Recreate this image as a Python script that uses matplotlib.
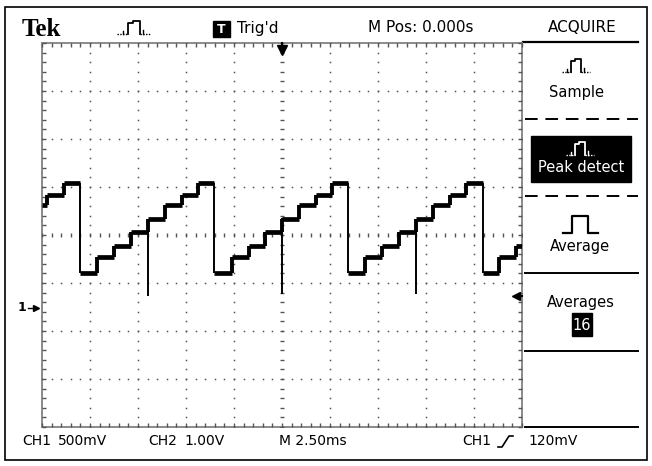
import numpy as np
import matplotlib.pyplot as plt
from matplotlib.patches import Rectangle

# scope settings
volts_per_div = 0.5      # CH1 500mV
ms_per_div = 2.5         # M 2.50ms
n_xdiv, n_ydiv = 10, 8
ground_div = 1.52        # CH1 ground marker below centre, in divisions
trig_level = 0.12        # V
trig_pos = 0.0           # ms

# CH1 staircase: edge times (ms) and the level held after each edge (V)
edge_t = [-12.5, -12.24, -11.35, -10.52, -9.64, -8.75, -7.86, -7.0, -6.09,
          -5.21, -4.37, -3.54, -2.6, -1.72, -0.89, 0.0, 0.89, 1.77, 2.6,
          3.44, 4.32, 5.21, 6.09, 6.98, 7.86, 8.75, 9.58, 10.47, 11.3,
          12.19, 12.5]
step_v = [1.07, 1.18, 1.30, 0.36, 0.53, 0.65, 0.79, 0.93, 1.07, 1.18,
          1.30, 0.36, 0.53, 0.65, 0.79, 0.93, 1.07, 1.18, 1.30, 0.36,
          0.53, 0.65, 0.79, 0.93, 1.07, 1.18, 1.30, 0.36, 0.53, 0.65]

# glitches at the mid-code transition
glitch_t = [-7.0, 0.0, 6.98]
glitch_top = [0.93, 0.94, 0.93]
glitch_low = [0.12, 0.15, 0.15]

W, H = 652, 466
fig = plt.figure(figsize=(W / 100, H / 100), dpi=100)
fig.patch.set_facecolor('white')

# full-figure overlay in pixel units for the screen furniture
ov = fig.add_axes([0, 0, 1, 1])
ov.set_xlim(0, W)
ov.set_ylim(H, 0)
ov.axis('off')

# graticule axes (42..522 x 43..427 px)
gx0, gy0, gw, gh = 42, 43, 480, 384
ax = fig.add_axes([gx0 / W, (H - gy0 - gh) / H, gw / W, gh / H])
ax.patch.set_alpha(0)
yc = ground_div * volts_per_div
ax.set_xlim(-n_xdiv / 2 * ms_per_div, n_xdiv / 2 * ms_per_div)
ax.set_ylim(yc - n_ydiv / 2 * volts_per_div, yc + n_ydiv / 2 * volts_per_div)
for s in ax.spines.values():
    s.set_visible(False)
ax.set_xticks([])
ax.set_yticks([])

grid_c = '#555555'
div_x = np.arange(-n_xdiv // 2, n_xdiv // 2 + 1) * ms_per_div
div_y = yc + np.arange(-n_ydiv // 2, n_ydiv // 2 + 1) * volts_per_div
minor_x = np.arange(-n_xdiv * 5 // 2, n_xdiv * 5 // 2 + 1) * ms_per_div / 5
minor_y = yc + np.arange(-n_ydiv * 5 // 2, n_ydiv * 5 // 2 + 1) * volts_per_div / 5

# dotted interior grid
for gxv in div_x[1:-1]:
    if abs(gxv) < 1e-9:
        continue
    ax.plot(np.full_like(minor_y, gxv), minor_y, ls='none', marker='s',
            ms=1.1, mew=0, color=grid_c)
for gyv in div_y[1:-1]:
    if abs(gyv - yc) < 1e-9:
        continue
    ax.plot(minor_x, np.full_like(minor_x, gyv), ls='none', marker='s',
            ms=1.1, mew=0, color=grid_c)
# centre lines with small ticks
ax.plot(np.zeros_like(minor_y), minor_y, ls='none', marker='_', ms=3.5,
        mew=1, color=grid_c)
ax.plot(minor_x, np.full_like(minor_x, yc), ls='none', marker='|', ms=3.5,
        mew=1, color=grid_c)
# border with inward ticks
ax.add_patch(Rectangle((0, 0), 1, 1, transform=ax.transAxes, fill=False,
                       ec='#8a8a8a', lw=1.4, clip_on=False))
xt = ax.get_xaxis_transform()
yt = ax.get_yaxis_transform()
ax.plot(minor_x, np.ones_like(minor_x), transform=xt, ls='none', marker=3,
        ms=3, mew=1, color=grid_c, clip_on=False)
ax.plot(minor_x, np.zeros_like(minor_x), transform=xt, ls='none', marker=2,
        ms=3, mew=1, color=grid_c, clip_on=False)
ax.plot(np.zeros_like(minor_y), minor_y, transform=yt, ls='none', marker=1,
        ms=3, mew=1, color=grid_c, clip_on=False)
ax.plot(np.ones_like(minor_y), minor_y, transform=yt, ls='none', marker=0,
        ms=3, mew=1, color=grid_c, clip_on=False)

# CH1 trace: thick treads and rises, thin falls
ax.hlines(step_v, edge_t[:-1], edge_t[1:], colors='black', lw=3.4, zorder=5)
for i in range(1, len(step_v)):
    up = step_v[i] > step_v[i - 1]
    ax.vlines(edge_t[i], step_v[i - 1], step_v[i], colors='black',
              lw=2.8 if up else 1.4, zorder=5)
ax.vlines(glitch_t, glitch_low, glitch_top, colors='black', lw=1.4, zorder=5)

# trigger position arrow (top), trigger level arrow (right), ground marker
ax.plot([trig_pos, trig_pos], [1.0, 0.985], transform=xt, color='black',
        lw=1.5, clip_on=False)
ax.plot([trig_pos], [0.982], transform=xt, marker='v', ms=7, color='black',
        clip_on=False)
ax.plot([0.99, 1.0], [trig_level, trig_level], transform=yt, color='black',
        lw=1.5, clip_on=False)
ax.plot([0.988], [trig_level], transform=yt, marker='<', ms=6, color='black',
        clip_on=False)
ax.text(-0.042, 0.0, '1', transform=yt, fontsize=9, ha='center', va='center',
        fontweight='bold')
ax.plot([-0.03, -0.012], [0.0, 0.0], transform=yt, color='black', lw=1,
        clip_on=False)
ax.plot([-0.013], [0.0], transform=yt, marker='>', ms=4, color='black',
        clip_on=False)

# outer frame
ov.add_patch(Rectangle((5, 7), 642, 453, fill=False, ec='black', lw=1.2))

sans = ['DejaVu Sans']


def peak_icon(cx, cy, col, k=1.0):
    ov.plot([cx - 6 * k, cx - 6 * k, cx - 2 * k, cx - 2 * k, cx + 4 * k,
             cx + 4 * k],
            [cy + 6, cy - 5, cy - 5, cy - 7, cy - 7, cy + 6],
            color=col, lw=1.3)
    ov.plot([cx - 15 * k, cx - 6 * k], [cy + 6, cy + 6], color=col, lw=1.0,
            ls=(0, (1, 1)))
    ov.plot([cx + 4 * k, cx + 13 * k], [cy + 6, cy + 6], color=col, lw=1.0,
            ls=(0, (1, 1)))
    ov.plot([cx + 7 * k, cx + 7 * k], [cy + 6, cy + 2], color=col, lw=1.0)
    ov.plot([cx - 10 * k, cx - 10 * k], [cy + 6, cy + 3], color=col, lw=1.0)


# top bar
ov.text(22, 29, 'Tek', fontsize=18, fontweight='bold',
        family=['Liberation Serif', 'DejaVu Serif'], ha='left', va='center')
peak_icon(135, 28, 'black', k=1.2)
ov.add_patch(Rectangle((213, 21), 17, 16, fc='black', ec='black'))
ov.text(221.5, 29.5, 'T', color='white', fontsize=9, fontweight='bold',
        ha='center', va='center', family=sans)
ov.text(237, 28, "Trig'd", fontsize=11, ha='left', va='center', family=sans)
ov.text(368, 28, 'M Pos: 0.000s', fontsize=11, ha='left', va='center',
        family=sans)
ov.text(582, 28, 'ACQUIRE', fontsize=11, ha='center', va='center',
        family=sans)

# side menu
ov.plot([523, 638], [42, 42], color='black', lw=1.6)
for yy in (119, 196):
    ov.plot([525, 638], [yy, yy], color='black', lw=1.4, dashes=(6.5, 4))
for yy in (273, 351, 427):
    ov.plot([525, 638], [yy, yy], color='black', lw=1.4)

peak_icon(577, 66, 'black')
ov.text(577, 92, 'Sample', fontsize=10.5, ha='center', va='center',
        family=sans)
ov.add_patch(Rectangle((531, 136), 100, 46, fc='black', ec='black'))
peak_icon(581, 149, 'white')
ov.text(581, 168, 'Peak detect', fontsize=10.5, color='white', ha='center',
        va='center', family=sans)
ov.plot([563, 572, 572, 588, 588, 598], [233, 233, 216, 216, 233, 233],
        color='black', lw=1.6)
ov.text(580, 247, 'Average', fontsize=10.5, ha='center', va='center',
        family=sans)
ov.text(581, 302, 'Averages', fontsize=10.5, ha='center', va='center',
        family=sans)
ov.add_patch(Rectangle((572, 313), 20, 23, fc='black', ec='black'))
ov.text(582, 325, '16', fontsize=10.5, color='white', ha='center',
        va='center', family=sans)

# bottom status line
bot_y = 441
ov.text(22, bot_y, 'CH1', fontsize=10, ha='left', va='center', family=sans)
ov.text(58, bot_y, '500mV', fontsize=10, ha='left', va='center', family=sans)
ov.text(148, bot_y, 'CH2', fontsize=10, ha='left', va='center', family=sans)
ov.text(184, bot_y, '1.00V', fontsize=10, ha='left', va='center', family=sans)
ov.text(279, bot_y, 'M 2.50ms', fontsize=10, ha='left', va='center',
        family=sans)
ov.text(462, bot_y, 'CH1', fontsize=10, ha='left', va='center', family=sans)
ov.plot([498, 502, 509, 513], [447, 447, 436, 436], color='black', lw=1.2)
ov.text(528, bot_y, '120mV', fontsize=10, ha='left', va='center',
        family=sans)

fig.savefig('out.png', dpi=100)
